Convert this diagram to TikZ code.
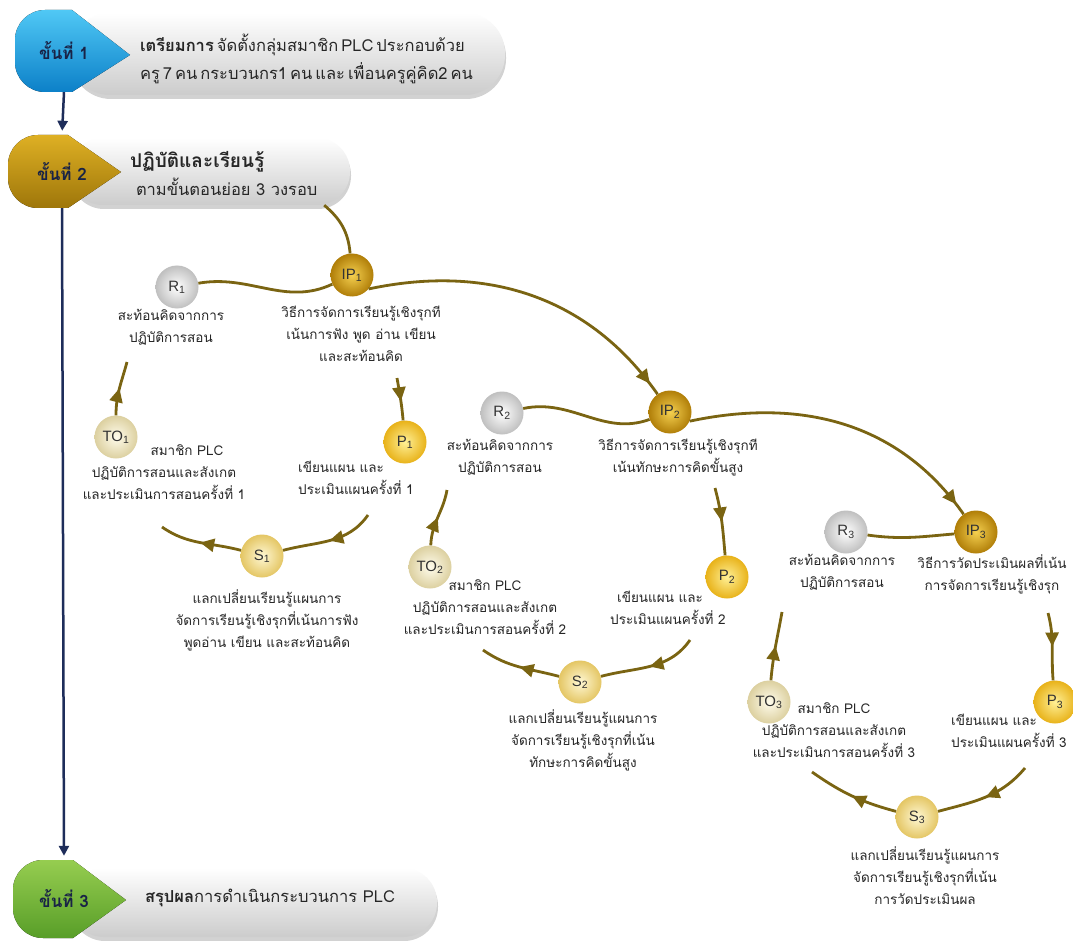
\documentclass[tikz,border=0pt]{standalone}
\usepackage{fontspec}
\setmainfont[Script=Thai]{Loma}
\newfontfamily\latinsf{Liberation Sans}
\usepackage{tikz}
\usetikzlibrary{positioning, arrows.meta, decorations.markings, shadows}

\definecolor{flowgold}{RGB}{122,100,18}
\definecolor{navyline}{RGB}{30,45,90}
\definecolor{stepink}{RGB}{25,35,70}
\newcommand{\narrowgap}{\spaceskip=3pt plus 1pt minus 1pt\relax}

\tikzset{
  ball/.style={circle, minimum size=43pt, inner sep=0pt, text=black!80,
    font=\latinsf\fontsize{15}{15}\selectfont},
  ipball/.style={ball, inner color={rgb,255:red,245;green,208;blue,80}, outer color={rgb,255:red,176;green,126;blue,8}},
  pball/.style={ball, inner color={rgb,255:red,255;green,240;blue,150}, outer color={rgb,255:red,232;green,178;blue,25}},
  sball/.style={ball, inner color={rgb,255:red,255;green,248;blue,212}, outer color={rgb,255:red,228;green,198;blue,100}},
  toball/.style={ball, inner color={rgb,255:red,255;green,252;blue,236}, outer color={rgb,255:red,220;green,208;blue,160}},
  rball/.style={ball, inner color=white, outer color=black!25},
  note/.style={font=\fontsize{13.5}{22}\selectfont, align=center, inner sep=0pt, text=black!85},
  link/.style={draw=flowgold, line width=2.8pt},
  flow/.style={link, postaction={decorate}, decoration={markings,
    mark=at position #1 with {\arrow[flowgold]{Triangle[length=14pt,width=13pt]}}}},
  flow/.default=0.5,
  hbox/.style={rectangle, inner sep=0pt, top color=white, bottom color=black!20,
    drop shadow={opacity=0.35, shadow xshift=1pt, shadow yshift=-4pt}},
  boxtext/.style={font=\fontsize{16.5}{28}\selectfont, align=left, inner sep=0pt, text=black!85},
  steplabel/.style={font=\bfseries\fontsize{17}{17}\selectfont, text=stepink, inner sep=0pt},
  navyarrow/.style={draw=navyline, line width=2.5pt, -{Triangle[length=10pt,width=10pt]}, shorten >=4pt}
}

\begin{document}
\begin{tikzpicture}[x=1pt, y=1pt]
\useasboundingbox (0,0) rectangle (1073,-941);
\fill[white] (0,0) rectangle (1073,-941);

% step boxes
\node[hbox, minimum width=435pt, minimum height=82pt, rounded corners=40pt] (box1) at (287.5,-54) {};
\node[hbox, minimum width=280pt, minimum height=67pt, rounded corners=33pt] (box2) at (210,-171.5) {};
\node[hbox, minimum width=367pt, minimum height=69pt, rounded corners=34pt] (box3) at (253.5,-902.5) {};

% badges
\fill[top color={rgb,255:red,80;green,200;blue,245}, bottom color={rgb,255:red,12;green,128;blue,200}]
  (72,-10) -- (130,-55) -- (72,-92) -- (45,-92) arc[start angle=270, end angle=180, radius=30]
  -- (15,-40) arc[start angle=180, end angle=90, radius=30] -- cycle;
\fill[top color={rgb,255:red,222;green,176;blue,36}, bottom color={rgb,255:red,158;green,118;blue,10}]
  (68,-135) -- (121,-172) -- (68,-208) -- (38,-208) arc[start angle=270, end angle=180, radius=30]
  -- (8,-165) arc[start angle=180, end angle=90, radius=30] -- cycle;
\fill[top color={rgb,255:red,150;green,205;blue,80}, bottom color={rgb,255:red,88;green,158;blue,40}]
  (73,-860) -- (126,-900) -- (73,-938) -- (43,-938) arc[start angle=270, end angle=180, radius=30]
  -- (13,-890) arc[start angle=180, end angle=90, radius=30] -- cycle;

\node[steplabel, minimum height=82pt] (st1) at (64,-51) {ขั้นที่ 1};
\node[steplabel, minimum height=73pt] (st2) at (62,-171.5) {ขั้นที่ 2};
\node[steplabel, minimum height=78pt] (st3) at (64,-899) {ขั้นที่ 3};

\node[boxtext, anchor=west] (box1t) at ([xshift=70pt, yshift=-5pt]box1.west)
  {\narrowgap\textbf{เตรียมการ} จัดตั้งกลุ่มสมาชิก PLC ประกอบด้วย\\\narrowgap ครู 7 คน กระบวนกร1 คน และ เพื่อนครูคู่คิด2 คน};
\node[boxtext, anchor=west] (box2t) at ([xshift=60pt, yshift=-2pt]box2.west)
  {{\bfseries\fontsize{19}{28}\selectfont ปฏิบัติและเรียนรู้}\\\hspace*{6pt}ตามขั้นตอนย่อย 3 วงรอบ};
\node[boxtext, anchor=west] (box3t) at ([xshift=75pt, yshift=5pt]box3.west)
  {\textbf{สรุปผล}การดำเนินกระบวนการ PLC};

\draw[navyarrow] (st1.south) -- (st2.north);
\draw[navyarrow] (st2.south) -- (st3.north);

% cycle 1
\node[ipball] (ip1) at (352,-275) {IP\textsubscript{1}};
\node[rball] (r1) at (177,-287) {R\textsubscript{1}};
\node[pball] (p1) at (405,-442) {P\textsubscript{1}};
\node[toball] (to1) at (116,-437) {TO\textsubscript{1}};
\node[sball] (s1) at (262,-556) {S\textsubscript{1}};

\node[note, anchor=north] (r1t) at (171,-309) {สะท้อนคิดจากการ\\ปฏิบัติการสอน};
\node[note, anchor=north] (ip1t) at (361,-306) {วิธีการจัดการเรียนรู้เชิงรุกที\\เน้นการฟัง พูด อ่าน เขียน\\และสะท้อนคิด};
\node[note, anchor=north west, align=left] (p1t) at (298,-461) {เขียนแผน และ\\ประเมินแผนครั้งที่ 1};
\node[note, anchor=north] (to1t) at (164,-444) {\hspace*{46pt}สมาชิก PLC\\ปฏิบัติการสอนและสังเกต\\และประเมินการสอนครั้งที่ 1};
\node[note, anchor=north] (s1t) at (267,-589) {แลกเปลี่ยนเรียนรู้แผนการ\\จัดการเรียนรู้เชิงรุกที่เน้นการฟัง\\พูดอ่าน เขียน และสะท้อนคิด};

\coordinate (ip1a) at (397,-378);
\coordinate (p1b) at (368,-515);
\coordinate (s1c) at (162,-527);
\coordinate (r1d) at (127,-362);

\draw[link] ([xshift=-26pt]box2.south east) to[out=-40, in=95] (ip1);
\draw[link] (r1) to[out=10, in=205] (ip1);
\draw[flow=0.55] (ip1a) to[out=-80, in=95] (p1);
\draw[flow] (p1b) to[out=-125, in=15] (s1);
\draw[flow] (s1) to[out=165, in=-35] (s1c);
\draw[flow] (to1) to[out=90, in=-105] (r1d);

% cycle 2
\node[ipball] (ip2) at (670,-412) {IP\textsubscript{2}};
\node[rball] (r2) at (502,-413) {R\textsubscript{2}};
\node[pball] (p2) at (727,-577) {P\textsubscript{2}};
\node[toball] (to2) at (430,-567) {TO\textsubscript{2}};
\node[sball] (s2) at (580,-682) {S\textsubscript{2}};

\node[note, anchor=north] (r2t) at (500,-439) {สะท้อนคิดจากการ\\ปฏิบัติการสอน};
\node[note, anchor=north] (ip2t) at (678,-439) {วิธีการจัดการเรียนรู้เชิงรุกที\\เน้นทักษะการคิดขั้นสูง};
\node[note, anchor=north west, align=left] (p2t) at (610,-591) {\hspace*{7pt}เขียนแผน และ\\ประเมินแผนครั้งที่ 2};
\node[note, anchor=north] (to2t) at (485,-579) {สมาชิก PLC\\ปฏิบัติการสอนและสังเกต\\และประเมินการสอนครั้งที่ 2};
\node[note, anchor=north] (s2t) at (583,-709) {แลกเปลี่ยนเรียนรู้แผนการ\\จัดการเรียนรู้เชิงรุกที่เน้น\\ทักษะการคิดขั้นสูง};

\coordinate (ip2a) at (715,-488);
\coordinate (p2b) at (690,-640);
\coordinate (s2c) at (483,-650);
\coordinate (r2d) at (447,-490);

\draw[flow=0.96] (ip1.-40) to[out=12, in=125] (ip2);
\draw[link] (r2) to[out=12, in=200] (ip2);
\draw[flow=0.5] (ip2a) to[out=-75, in=95] (p2);
\draw[flow] (p2b) to[out=-125, in=15] (s2);
\draw[flow] (s2) to[out=165, in=-35] (s2c);
\draw[flow] (to2) to[out=88, in=-100] (r2d);

% cycle 3
\node[ipball] (ip3) at (976,-532) {IP\textsubscript{3}};
\node[rball] (r3) at (846,-532) {R\textsubscript{3}};
\node[pball] (p3) at (1055,-702) {P\textsubscript{3}};
\node[toball] (to3) at (769,-702) {TO\textsubscript{3}};
\node[sball] (s3) at (917,-817) {S\textsubscript{3}};

\node[note, anchor=north] (r3t) at (842,-554) {สะท้อนคิดจากการ\\ปฏิบัติการสอน};
\node[note, anchor=north] (ip3t) at (992,-554) {วิธีการวัดประเมินผลที่เน้น\\การจัดการเรียนรู้เชิงรุก};
\node[note, anchor=north west, align=left] (p3t) at (951,-714) {เขียนแผน และ\\ประเมินแผนครั้งที่ 3};
\node[note, anchor=north] (to3t) at (834,-702) {สมาชิก PLC\\ปฏิบัติการสอนและสังเกต\\และประเมินการสอนครั้งที่ 3};
\node[note, anchor=north] (s3t) at (925,-846) {แลกเปลี่ยนเรียนรู้แผนการ\\จัดการเรียนรู้เชิงรุกที่เน้น\\การวัดประเมินผล};

\coordinate (ip3a) at (1048,-613);
\coordinate (p3b) at (1025,-768);
\coordinate (s3c) at (812,-772);
\coordinate (r3d) at (782,-612);

\draw[flow=0.96] (ip2.-25) to[out=12, in=125] (ip3);
\draw[link] (r3) to[out=-8, in=185] (ip3);
\draw[flow=0.5] (ip3a) to[out=-75, in=95] (p3);
\draw[flow] (p3b) to[out=-130, in=15] (s3);
\draw[flow] (s3) to[out=165, in=-35] (s3c);
\draw[flow] (to3) to[out=85, in=-100] (r3d);
\end{tikzpicture}
\end{document}
